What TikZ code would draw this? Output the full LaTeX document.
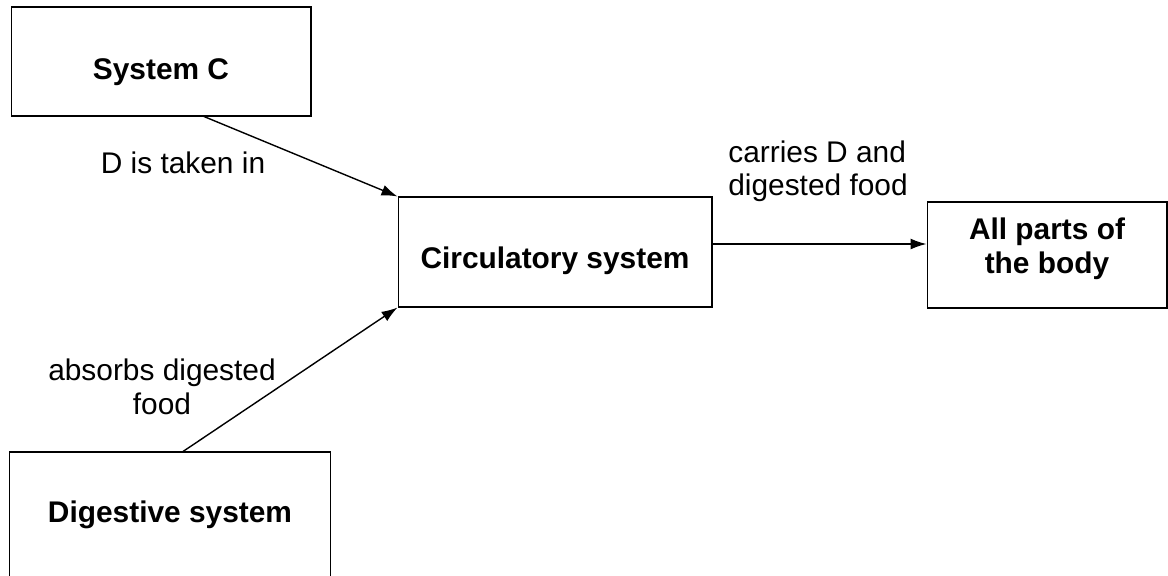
\documentclass[tikz,border=0pt]{standalone}
\usepackage{fontspec}
\setmainfont{Liberation Sans}
\usetikzlibrary{arrows.meta}
\tikzset{
    flow/.cd,
    box/.style={draw,line width=0.6pt,inner sep=0pt,font=\fontsize{17}{19}\selectfont\bfseries,align=center},
    link/.style={line width=0.8pt,-{Latex[length=0.32cm,width=0.22cm]}},
    note/.style={font=\fontsize{17}{19}\selectfont},
}

\begin{document}
\begin{tikzpicture}[x=0.02cm,y=-0.02cm]
      \useasboundingbox (0,0) rectangle (1168,575);
      \clip (0,0) rectangle (1168,575);

      \node[flow/box,minimum width=6cm,minimum height=2.18cm,text height=0.89cm,text depth=0.15cm] (sysC) at (161,61.5) {System C};
      \node[flow/box,minimum width=6.28cm,minimum height=2.2cm,text height=0.79cm,text depth=0.15cm] (circ) at (555,252) {Circulatory system};
      \node[flow/box,minimum width=4.8cm,minimum height=2.12cm,text height=0.87cm,text depth=0.15cm] (body) at (1047,255) {All parts of\\the body};
      \node[flow/box,minimum width=6.42cm,text height=1.4cm,text depth=1.56cm] (digest) at (170,526) {Digestive system};

      \node[flow/note] (taken) at (183,163) {D is taken in};
      \node[flow/note,align=left] (carries) at (818,171) {carries D and\\digested food};
      \node[flow/note,align=center] (absorbs) at (162,387) {absorbs digested\\food};

      \draw[flow/link] (sysC.-52) -- (circ.north west);
      \draw[flow/link] ([xshift=0.26cm]digest.north) -- (circ.south west);
      \draw[flow/link] ([yshift=0.16cm]circ.east) -- ([yshift=0.16cm]circ.east -| body.west);
\end{tikzpicture}
\end{document}
